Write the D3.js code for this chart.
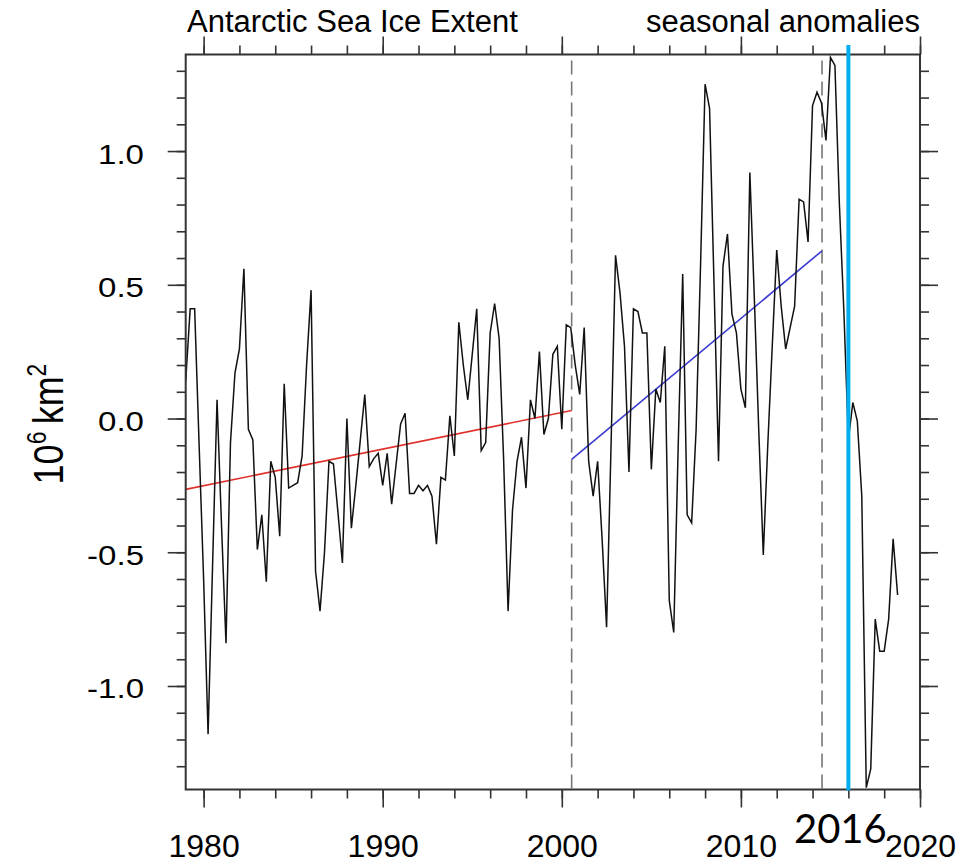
<!DOCTYPE html>
<html>
<head>
<meta charset="utf-8">
<script src="https://cdn.jsdelivr.net/npm/d3@7"></script>
<style>
  html, body { margin: 0; padding: 0; background: #fff; }
  svg { display: block; }
  text { font-family: "Liberation Sans", Arial, Helvetica, sans-serif; fill: #000; }
</style>
</head>
<body>
<svg id="chart" width="974" height="863"></svg>
<script>
// Antarctic sea ice extent, seasonal anomalies (10^6 km^2), one value per season from 1979
const startYear = 1979;
const seasonsPerYear = 4;
const anomalies = [
   0.14,  0.41,  0.41, -0.10, -0.60, -1.18, -0.55,  0.07, -0.40, -0.84,
  -0.09,  0.17,  0.26,  0.56, -0.04, -0.08, -0.49, -0.36, -0.61, -0.16,
  -0.22, -0.44,  0.13, -0.26, -0.25, -0.24, -0.14,  0.20,  0.48, -0.57,
  -0.72, -0.50, -0.16, -0.17, -0.35, -0.54,  0.00, -0.41, -0.25, -0.08,
   0.09, -0.18, -0.15, -0.13, -0.25, -0.13, -0.32, -0.17, -0.02,  0.02,
  -0.28, -0.28, -0.25, -0.27, -0.25, -0.29, -0.47, -0.22, -0.23,  0.01,
  -0.14,  0.36,  0.20,  0.07,  0.24,  0.41, -0.12, -0.09,  0.32,  0.43,
   0.30, -0.15, -0.72, -0.34, -0.16, -0.07, -0.26,  0.07,  0.00,  0.25,
  -0.06,  0.00,  0.24,  0.27, -0.04,  0.35,  0.34,  0.20,  0.09,  0.34,
  -0.16, -0.29, -0.16, -0.45, -0.78, -0.10,  0.61,  0.47,  0.27, -0.20,
   0.41,  0.40,  0.32,  0.32, -0.19,  0.11,  0.06,  0.27, -0.68, -0.80,
  -0.10,  0.54, -0.36, -0.39, -0.04,  0.58,  1.25,  1.16,  0.50, -0.16,
   0.57,  0.69,  0.39,  0.32,  0.11,  0.04,  0.92,  0.45, -0.05, -0.51,
  -0.10,  0.27,  0.63,  0.42,  0.26,  0.34,  0.42,  0.82,  0.81,  0.66,
   1.17,  1.22,  1.18,  1.04,  1.35,  1.32,  0.80,  0.40, -0.08,  0.06,
  -0.01, -0.29, -1.38, -1.31, -0.75, -0.87, -0.87, -0.75, -0.45, -0.66
];

// Linear trends over the two periods: [year, anomaly] at each end
const trendEarly = [[1979.0, -0.265], [2000.55, 0.03]];
const trendLate  = [[2000.55, -0.153], [2014.53, 0.627]];

// Period boundaries (dashed) and the highlighted year
const breakYears = [2000.55, 2014.53];
const markYear = 2016;
const markLabel = "2016";

// Axis ticks
const xMajorTicks = [1980, 1990, 2000, 2010, 2020];
const xMinorTicks = d3.range(1980, 2021, 2);
const yMajorTicks = [-1.0, -0.5, 0.0, 0.5, 1.0];
const yMinorTicks = [-1.3, -1.2, -1.1, -1.0, -0.9, -0.8, -0.7, -0.6, -0.5, -0.4, -0.3, -0.2, -0.1, 0.0,
                     0.1, 0.2, 0.3, 0.4, 0.5, 0.6, 0.7, 0.8, 0.9, 1.0, 1.1, 1.2, 1.3];

const titleLeft = "Antarctic Sea Ice Extent";
const titleRight = "seasonal anomalies";

// Layout
const plot = { left: 185.7, right: 920, top: 54.5, bottom: 789.5 };
const svg = d3.select("#chart");

const x = d3.scaleLinear().domain([1979, 2020]).range([plot.left, plot.right]);
const y = d3.scaleLinear().domain([-1.387, 1.361]).range([plot.bottom, plot.top]);

const frameColor = "#333";
const majorLen = 18, minorLen = 9;

function styleAxis(g) {
  g.select(".domain").remove();
  g.selectAll(".tick line").attr("stroke", frameColor).attr("stroke-width", 1.6);
}

// Minor ticks on all four sides
svg.append("g").attr("transform", `translate(0,${plot.bottom})`)
  .call(d3.axisBottom(x).tickValues(xMinorTicks).tickSize(minorLen).tickFormat(""))
  .call(styleAxis);
svg.append("g").attr("transform", `translate(0,${plot.top})`)
  .call(d3.axisTop(x).tickValues(xMinorTicks).tickSize(minorLen).tickFormat(""))
  .call(styleAxis);
svg.append("g").attr("transform", `translate(${plot.left},0)`)
  .call(d3.axisLeft(y).tickValues(yMinorTicks).tickSize(minorLen).tickFormat(""))
  .call(styleAxis);
svg.append("g").attr("transform", `translate(${plot.right},0)`)
  .call(d3.axisRight(y).tickValues(yMinorTicks).tickSize(minorLen).tickFormat(""))
  .call(styleAxis);

// Major ticks
const xb = svg.append("g").attr("transform", `translate(0,${plot.bottom})`)
  .call(d3.axisBottom(x).tickValues(xMajorTicks).tickSize(majorLen).tickFormat(d3.format("d")))
  .call(styleAxis);
xb.selectAll(".tick text")
  .attr("y", 0).attr("dy", null)
  .attr("transform", "translate(0,67)")
  .style("font-size", "32px")
  .style("font-family", "'Liberation Sans', Arial, sans-serif")
  .attr("fill", "#000");

svg.append("g").attr("transform", `translate(0,${plot.top})`)
  .call(d3.axisTop(x).tickValues(xMajorTicks).tickSize(majorLen).tickFormat(""))
  .call(styleAxis);

const yl = svg.append("g").attr("transform", `translate(${plot.left},0)`)
  .call(d3.axisLeft(y).tickValues(yMajorTicks).tickSize(majorLen).tickFormat(d3.format(".1f")))
  .call(styleAxis);
yl.selectAll(".tick text")
  .attr("x", 0).attr("dy", null).attr("y", 0)
  .attr("transform", "translate(-41.7,12) scale(1.18,1)")
  .attr("text-anchor", "end")
  .style("font-size", "28px")
  .style("font-family", "'Liberation Sans', Arial, sans-serif")
  .attr("fill", "#000")
  .text(d => d3.format(".1f")(d).replace("\u2212", "-"));

svg.append("g").attr("transform", `translate(${plot.right},0)`)
  .call(d3.axisRight(y).tickValues(yMajorTicks).tickSize(majorLen).tickFormat(""))
  .call(styleAxis);

// Dashed period boundaries
svg.append("g").selectAll("line").data(breakYears).join("line")
  .attr("x1", d => x(d)).attr("x2", d => x(d))
  .attr("y1", plot.top + 6).attr("y2", plot.bottom)
  .attr("stroke", "#777").attr("stroke-width", 1.6)
  .attr("stroke-dasharray", "14,7");

// Trend lines
const trendLine = d3.line().x(d => x(d[0])).y(d => y(d[1]));
svg.append("path").datum(trendEarly).attr("d", trendLine)
  .attr("fill", "none").attr("stroke", "#e0302c").attr("stroke-width", 1.6);
svg.append("path").datum(trendLate).attr("d", trendLine)
  .attr("fill", "none").attr("stroke", "#3a3ad0").attr("stroke-width", 1.6);

// Seasonal anomaly series
const series = anomalies.map((v, i) => [startYear + i / seasonsPerYear, v]);
svg.append("path").datum(series)
  .attr("d", d3.line().x(d => x(d[0])).y(d => y(d[1])))
  .attr("fill", "none").attr("stroke", "#111").attr("stroke-width", 1.5)
  .attr("stroke-linejoin", "miter");

// Frame
svg.append("rect")
  .attr("x", plot.left).attr("y", plot.top)
  .attr("width", plot.right - plot.left).attr("height", plot.bottom - plot.top)
  .attr("fill", "none").attr("stroke", frameColor).attr("stroke-width", 2);

// Highlighted year
svg.append("line")
  .attr("x1", x(markYear)).attr("x2", x(markYear))
  .attr("y1", 45).attr("y2", plot.bottom + 1)
  .attr("stroke", "#00aeef").attr("stroke-width", 4);

svg.append("text")
  .attr("x", x(markYear) - 8).attr("y", 843)
  .attr("text-anchor", "middle")
  .style("font-family", "Lato, 'Open Sans', sans-serif")
  .style("font-size", "40px")
  .text(markLabel);

// Titles
svg.append("text").attr("x", 187).attr("y", 32)
  .style("font-size", "31px").text(titleLeft);
svg.append("text").attr("x", plot.right).attr("y", 32)
  .attr("text-anchor", "end")
  .style("font-size", "31px").text(titleRight);

// Y-axis title: 10^6 km^2
const yTitle = svg.append("text")
  .attr("transform", `translate(63,424) rotate(-90) scale(1,1.2)`)
  .attr("text-anchor", "middle")
  .style("font-size", "36px");
yTitle.append("tspan").text("10");
yTitle.append("tspan").attr("dy", -14).style("font-size", "23px").text("6");
yTitle.append("tspan").attr("dy", 14).text("\u2009km");
yTitle.append("tspan").attr("dy", -14).style("font-size", "23px").text("2");
</script>
</body>
</html>
